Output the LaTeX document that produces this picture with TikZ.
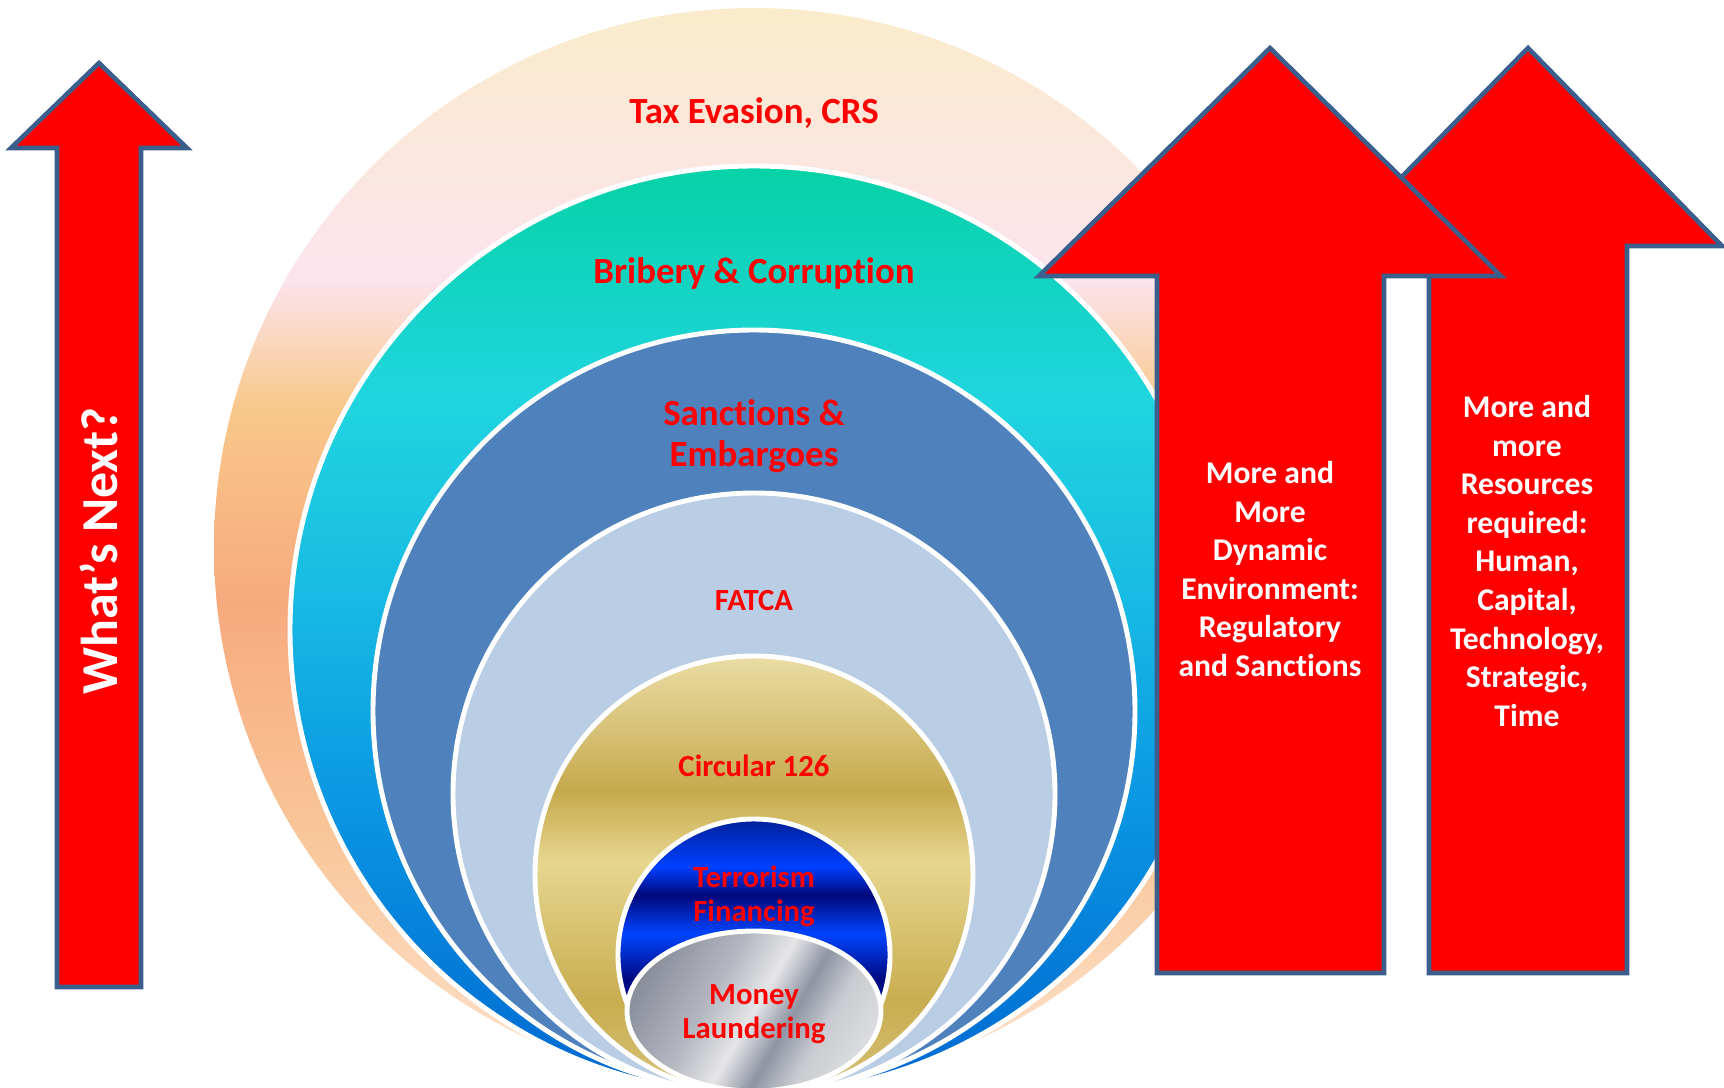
\documentclass[tikz,border=0pt]{standalone}
\usepackage{fontspec}
\setmainfont{Carlito}[Ligatures=NoCommon]
\usetikzlibrary{positioning}

\definecolor{arrowred}{HTML}{FF0000}
\definecolor{arrowline}{HTML}{3B5F8C}
\definecolor{steel}{HTML}{4F81BD}
\definecolor{paleblue}{HTML}{B9CDE5}

% outer ring: beige -> pink -> orange -> salmon -> peach
\definecolor{taxA}{HTML}{FAEBCB}
\definecolor{taxB}{HTML}{FCE4EE}
\definecolor{taxC}{HTML}{F8C88A}
\definecolor{taxD}{HTML}{F7AA7E}
\definecolor{taxE}{HTML}{F9C496}
\definecolor{taxF}{HTML}{FDE3CF}
\pgfdeclareverticalshading{taxshade}{100bp}{
  color(0bp)=(taxF); color(25bp)=(taxF); color(37.5bp)=(taxE);
  color(47.5bp)=(taxD); color(56.5bp)=(taxC); color(62.5bp)=(taxB);
  color(75bp)=(taxA); color(100bp)=(taxA)}

% teal -> blue
\definecolor{bribA}{HTML}{05D2A6}
\definecolor{bribB}{HTML}{20D5DF}
\definecolor{bribC}{HTML}{17BAE3}
\definecolor{bribD}{HTML}{0A97E3}
\definecolor{bribE}{HTML}{0068D0}
\pgfdeclareverticalshading{bribshade}{100bp}{
  color(0bp)=(bribE); color(25bp)=(bribE); color(41bp)=(bribD);
  color(51.5bp)=(bribC); color(62.5bp)=(bribB); color(75bp)=(bribA);
  color(100bp)=(bribA)}

% gold bands
\definecolor{goldA}{HTML}{EADDA4}
\definecolor{goldB}{HTML}{C6A94D}
\definecolor{goldC}{HTML}{E6D68E}
\definecolor{goldD}{HTML}{C8AD50}
\definecolor{goldE}{HTML}{D8C27A}
\pgfdeclareverticalshading{goldshade}{100bp}{
  color(0bp)=(goldE); color(25bp)=(goldE); color(35.5bp)=(goldD);
  color(51.5bp)=(goldC); color(59.5bp)=(goldB); color(75bp)=(goldA);
  color(100bp)=(goldA)}

% deep blue bands
\definecolor{navyA}{HTML}{00209A}
\definecolor{navyB}{HTML}{0040FF}
\definecolor{navyC}{HTML}{00087A}
\definecolor{navyD}{HTML}{0044FF}
\definecolor{navyE}{HTML}{000A80}
\definecolor{navyF}{HTML}{0030E0}
\pgfdeclareverticalshading{navyshade}{100bp}{
  color(0bp)=(navyF); color(25bp)=(navyF); color(45.5bp)=(navyE);
  color(54bp)=(navyD); color(61bp)=(navyC); color(66.25bp)=(navyB);
  color(75bp)=(navyA); color(100bp)=(navyA)}

% brushed silver
\definecolor{silvA}{HTML}{8C909D}
\definecolor{silvB}{HTML}{B5B8C0}
\definecolor{silvC}{HTML}{E6E6E8}
\definecolor{silvD}{HTML}{8E94A3}
\definecolor{silvE}{HTML}{C9CBD0}
\definecolor{silvF}{HTML}{DADBDE}
\pgfdeclarehorizontalshading{silvshade}{100bp}{
  color(0bp)=(silvA); color(25bp)=(silvA); color(40bp)=(silvB);
  color(50bp)=(silvC); color(58bp)=(silvD); color(66bp)=(silvE);
  color(75bp)=(silvF); color(100bp)=(silvF)}

\begin{document}
\begin{tikzpicture}[x=0.02cm, y=-0.02cm,
  ring/.style={draw=white, line width=2.8pt},
  arrowbox/.style={draw=arrowline, line width=2.6pt, fill=arrowred},
  ringtext/.style={font=\bfseries\fontsize{21}{23}\selectfont, text=arrowred, align=center},
  smalltext/.style={font=\bfseries\fontsize{17.5}{19.5}\selectfont, text=arrowred, align=center},
  arrowtext/.style={font=\bfseries\fontsize{18}{22}\selectfont, text=white, align=center}
]
\useasboundingbox (0,0) rectangle (1724,1088);

% nested rings, all touching at the bottom
\begin{scope}
  \clip (0,0) rectangle (1724,1088);
  \path[ring, draw=none, shading=taxshade] (754,548) circle (540);
  \path[ring, shading=bribshade] (754,630) circle (464);
  \path[ring, fill=steel] (754,711) circle (381);
  \path[ring, fill=paleblue] (754,794) circle (301);
  \path[ring, shading=goldshade] (754,875) circle (219);
  \path[ring, shading=navyshade] (754,955) circle (136);
  \path[ring, shading=silvshade, shading angle=-30] (754,1011) ellipse (127 and 80);
\end{scope}

\node[ringtext] (tax) at (754,113) {Tax Evasion, CRS};
\node[ringtext] (brib) at (754,273) {Bribery \& Corruption};
\node[ringtext] (sanc) at (754,436) {Sanctions \&\\Embargoes};
\node[smalltext] (fatca) at (754,601) {FATCA};
\node[smalltext] (circ) at (754,766) {Circular 126};
\node[smalltext] (terr) at (754,896) {Terrorism\\Financing};
\node[smalltext] (money) at (754,1014) {Money\\Laundering};

% the three up arrows
\draw[arrowbox] (1528,48) -- (1722,246) -- (1627,246) -- (1627,973)
  -- (1429,973) -- (1429,246) -- (1334,246) -- cycle;
\draw[arrowbox] (1270,48) -- (1501,276) -- (1384,276) -- (1384,973)
  -- (1157,973) -- (1157,276) -- (1039,276) -- cycle;
\draw[arrowbox] (99,63) -- (187,148) -- (141,148) -- (141,987)
  -- (57,987) -- (57,148) -- (11,148) -- cycle;

\node[arrowtext, rotate=90, font=\bfseries\fontsize{29.5}{32}\selectfont] (next) at (99,551) {What’s Next?};
\node[arrowtext] (env) at (1270,569) {More and\\More\\Dynamic\\Environment:\\Regulatory\\and Sanctions};
\node[arrowtext] (res) at (1527,561) {More and\\more\\Resources\\required:\\Human,\\Capital,\\Technology,\\Strategic,\\Time};
\end{tikzpicture}
\end{document}
